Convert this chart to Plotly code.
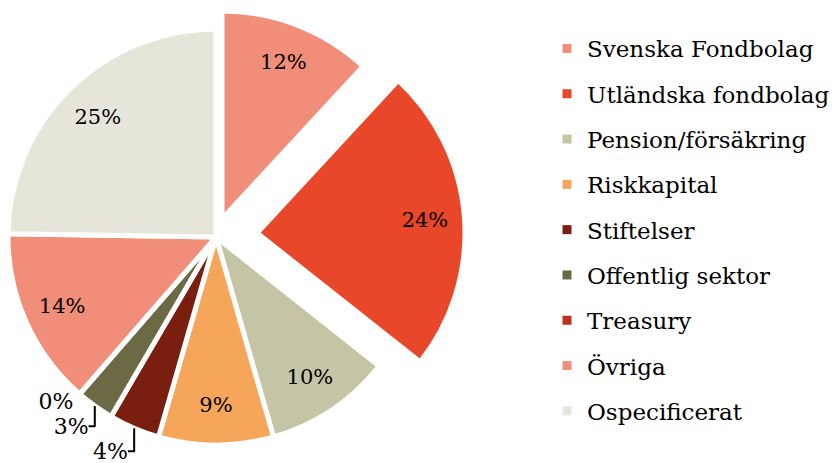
import plotly.graph_objects as go

labels = ["Svenska Fondbolag", "Utländska fondbolag", "Pension/försäkring", "Riskkapital",
          "Stiftelser", "Offentlig sektor", "Treasury", "Övriga", "Ospecificerat"]
values = [12, 24, 10, 9, 4, 3, 0, 14, 25]
colors = ["#F08E7A", "#E84729", "#C5C5A5", "#F5A65B", "#7A1E0F", "#6B6A45", "#BF2F1A", "#F08E7A", "#E6E5D9"]
pulled = ["Svenska Fondbolag", "Utländska fondbolag"]
outside = ["Stiftelser", "Offentlig sektor", "Treasury"]

W, H = 835, 463
FONT = "DejaVu Serif"
R = 208
centers = {"main": (216, 237), "Svenska Fondbolag": (222, 219), "Utländska fondbolag": (257, 233)}


def domain(c):
    cx, cy = c
    cyu = H - cy
    return dict(x=[(cx - R) / W, (cx + R) / W], y=[(cyu - R) / H, (cyu + R) / H])


fig = go.Figure()
CLEAR = "rgba(0,0,0,0)"


def add_pie(key, show):
    # filled slices (plus outside labels)
    txt, pos, cols, lw = [], [], [], []
    for lab, v, col in zip(labels, values, colors):
        on = show(lab)
        txt.append(f"{v}%" if (on and lab in outside) else "")
        pos.append("outside" if (on and lab in outside) else "none")
        cols.append(col if on else CLEAR)
        lw.append(5 if on else 0)
    fig.add_trace(go.Pie(
        labels=labels, values=values, sort=False, direction="clockwise", rotation=0,
        text=txt, textinfo="text", textposition=pos,
        outsidetextfont=dict(family=FONT, size=22, color="black"),
        marker=dict(colors=cols, line=dict(color="white", width=lw)),
        domain=domain(centers[key]), showlegend=False, hoverinfo="label+value",
    ))
    # ring carrying the inside labels near the outer part of each slice
    txt2, pos2 = [], []
    for lab, v in zip(labels, values):
        on = show(lab) and lab not in outside
        txt2.append(f"{v}%" if on else "")
        pos2.append("inside" if on else "none")
    fig.add_trace(go.Pie(
        labels=labels, values=values, sort=False, direction="clockwise", rotation=0,
        hole=0.62, text=txt2, textinfo="text", textposition=pos2,
        insidetextorientation="horizontal",
        insidetextfont=dict(family=FONT, size=21, color="black"),
        marker=dict(colors=[CLEAR] * len(labels), line=dict(width=0)),
        domain=domain(centers[key]), showlegend=False, hoverinfo="skip",
    ))


add_pie("main", lambda l: l not in pulled)
for p in pulled:
    add_pie(p, lambda l, p=p: l == p)

for lab, col in zip(labels, colors):
    fig.add_trace(go.Scatter(
        x=[None], y=[None], mode="markers", name=lab, legendgroup=lab,
        marker=dict(symbol="square", size=9, color=col), showlegend=True,
    ))

fig.update_layout(
    width=W, height=H, margin=dict(l=0, r=0, t=0, b=0, autoexpand=False),
    paper_bgcolor="white", plot_bgcolor="white",
    xaxis=dict(visible=False), yaxis=dict(visible=False),
    legend=dict(x=1, y=0.9417, xanchor="right", yanchor="top", tracegroupgap=12.4,
                font=dict(family=FONT, size=23, color="black"), itemwidth=30),
)

fig.write_html("out.html")
